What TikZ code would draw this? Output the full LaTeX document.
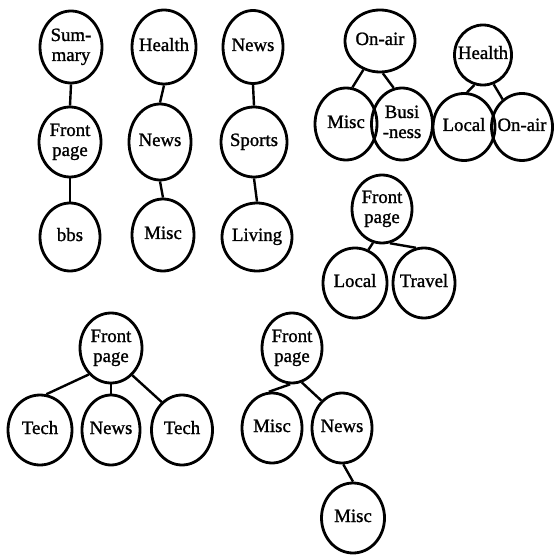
\documentclass[tikz,border=0pt]{standalone}
\usepackage{fontspec}
\setmainfont{Liberation Serif}
\newfontfamily\topicfont{Liberation Serif}[FakeBold=1.2]
\usetikzlibrary{shapes.geometric}
\newcommand{\topictext}[1]{\makebox[0pt]{\begin{tabular}{@{}c@{}}#1\end{tabular}}}
\begin{document}
\begin{tikzpicture}[x=0.5pt,y=-0.5pt,
    topic/.style={ellipse,draw,line width=1.4pt,inner sep=0pt,minimum width=31pt,minimum height=35pt,font=\topicfont\fontsize{9.4}{10}\selectfont},
    link/.style={line width=1.2pt}]
    \useasboundingbox (0,0) rectangle (555,555);
    \node[topic,minimum height=36pt] (sum) at (71,47) {\topictext{Sum-\\mary}};
    \node[topic] (fp1) at (70,142) {\topictext{Front\\page}};
    \node[topic,minimum width=30pt,minimum height=34pt] (bbs) at (70,237) {\topictext{bbs}};
    \draw[link] (sum.south) -- (fp1.north);
    \draw[link] (fp1.south) -- (bbs.north);
    \node[topic,minimum width=32pt,minimum height=37pt] (hea1) at (164,47) {\topictext{Health}};
    \node[topic,minimum height=38pt] (news2) at (160,142) {\topictext{News}};
    \node[topic,minimum height=36pt] (misc2) at (163,235) {\topictext{Misc}};
    \draw[link] (hea1.south) -- (news2.north);
    \draw[link] (news2.south) -- (misc2.north);
    \node[topic,minimum width=30pt,minimum height=36.5pt] (news3) at (253,47) {\topictext{News}};
    \node[topic,minimum width=33pt] (sports) at (254,142) {\topictext{Sports}};
    \node[topic,minimum width=35pt,minimum height=34pt] (living) at (257,237) {\topictext{Living}};
    \draw[link] (news3.south) -- (sports.north);
    \draw[link] (sports.south) -- (living.north);
    \node[topic,minimum width=35pt,minimum height=31pt] (onair) at (380,41) {\topictext{On-air}};
    \node[topic,minimum height=36pt] (misc) at (346,124) {\topictext{Misc}};
    \node[topic,minimum width=30.5pt,minimum height=36pt] (bus) at (402,124) {\topictext{Busi\\-ness}};
    \draw[link] (onair.-120) -- (misc.80);
    \draw[link] (onair.-85) -- (bus.103);
    \node[topic,minimum width=28.5pt,minimum height=30pt] (hea2) at (483,55) {\topictext{Health}};
    \node[topic,minimum height=33.5pt] (local) at (464,127) {\topictext{Local}};
    \node[topic,minimum width=30.5pt,minimum height=33.5pt] (onair2) at (522,127) {\topictext{On-air}};
    \draw[link] (hea2.-106) -- (local.85);
    \draw[link] (hea2.-70) -- (onair2.125);
    \node[topic,minimum width=30pt,minimum height=34pt] (fp3) at (382,209) {\topictext{Front\\page}};
    \node[topic,minimum width=32pt] (local3) at (355,283) {\topictext{Local}};
    \node[topic] (travel) at (424,283) {\topictext{Travel}};
    \draw[link] (fp3.-105) -- (local3.68);
    \draw[link] (fp3.-77) -- (travel.103);
    \node[topic] (fp4) at (111,348) {\topictext{Front\\page}};
    \node[topic,minimum width=32pt] (tech1) at (40,430) {\topictext{Tech}};
    \node[topic,minimum width=29pt] (news4) at (111,430) {\topictext{News}};
    \node[topic,minimum width=30.5pt] (tech2) at (182,430) {\topictext{Tech}};
    \draw[link] (fp4.-130) -- (tech1.80);
    \draw[link] (fp4.south) -- (news4.north);
    \draw[link] (fp4.-52) -- (tech2.126);
    \node[topic,minimum width=30pt] (fp5) at (292,348) {\topictext{Front\\page}};
    \node[topic,minimum width=30pt] (misc5) at (272,428) {\topictext{Misc}};
    \node[topic,minimum width=30pt] (news5) at (342,428) {\topictext{News}};
    \node[topic,minimum width=31.5pt] (misc6) at (353,518) {\topictext{Misc}};
    \draw[link] (fp5.-93) -- (misc5.95);
    \draw[link] (fp5.-74) -- (news5.127);
    \draw[link] (news5.-88) -- (misc6.north);
\end{tikzpicture}
\end{document}
